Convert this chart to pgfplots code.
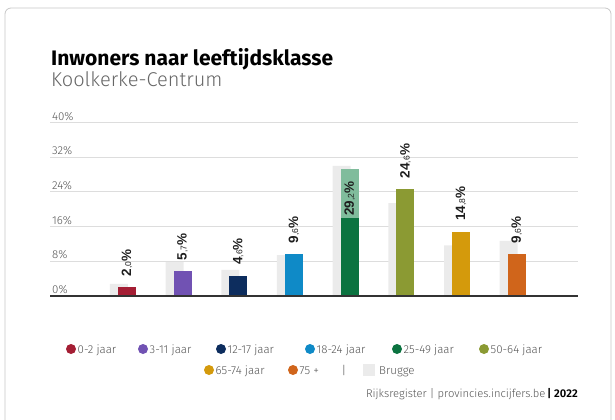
\documentclass[border=0pt]{standalone}
\usepackage{fontspec}
\usepackage{pgfplots}
\pgfplotsset{compat=1.18}
\setmainfont{Fira Sans}
\newfontfamily\lightfont{Fira Sans Light}
\newfontfamily\numfont{Liberation Sans}

\definecolor{cA}{HTML}{A41E34}
\definecolor{cB}{HTML}{7152B3}
\definecolor{cC}{HTML}{0D2D5E}
\definecolor{cD}{HTML}{0F8AC7}
\definecolor{cE}{HTML}{0B7340}
\definecolor{cEl}{HTML}{80BC9C}
\definecolor{cF}{HTML}{8B9A33}
\definecolor{cG}{HTML}{D49A0C}
\definecolor{cH}{HTML}{D0651B}
\definecolor{brugge}{HTML}{EBEBEB}
\definecolor{gridcol}{HTML}{DDDDDD}
\definecolor{txtgray}{HTML}{555555}
\definecolor{subgray}{HTML}{666666}
\definecolor{labcol}{HTML}{1E1E1E}

\newcommand\numbig{\numfont\bfseries\fontsize{13.5bp}{14bp}\selectfont}
\newcommand\numsmall{\mdseries\fontsize{8.5bp}{9bp}\selectfont}
% value label: large bold integer part, small decimals
\newcommand\vallabel{\pgfmathprintnumber[assume math mode=true, use comma, fixed, fixed zerofill, precision=1, set decimal separator={\numsmall,}]{\pgfplotspointmeta}\%}

\pgfplotsset{
  mainbar/.style={
    ybar, bar width=18bp, bar shift=0pt, draw=none, fill=#1,
    point meta=y,
    nodes near coords={\hspace*{11bp}{\numbig\vallabel}},
    every node near coord/.append style={rotate=90, anchor=west, inner sep=0pt, text=labcol},
  },
}

\begin{document}
\begin{tikzpicture}[x=1bp,y=1bp]
\useasboundingbox (0,0) rectangle (615,419);
\draw[rounded corners=6bp, draw=black!22, line width=0.8bp] (5,-10) rectangle (611,411);

% heading
\node[anchor=base west, inner sep=0pt, font=\bfseries\fontsize{21bp}{23bp}\selectfont, text=black] at (51,353.5) {Inwoners naar leeftijdsklasse};
\node[anchor=base west, inner sep=0pt, font=\lightfont\fontsize{20bp}{22bp}\selectfont, text=subgray] at (51,333) {Koolkerke-Centrum};

\begin{axis}[
  at={(50bp,123bp)}, anchor=south west,
  scale only axis, width=528bp, height=173.5bp,
  xmin=-1.38, xmax=8.1, ymin=0, ymax=40,
  axis line style={draw=none},
  xtick=\empty, ytick={8,16,24,32,40}, yticklabels={},
  major tick length=0pt,
  ymajorgrids, grid style={color=gridcol, line width=0.9bp},
  clip=false,
]
% Brugge reference bars
\addplot[ybar, bar width=18bp, bar shift=-8bp, fill=brugge, draw=none]
  coordinates {(0,2.8) (1,7.8) (2,6.0) (3,9.4) (4,30.0) (5,21.4) (6,11.7) (7,12.7)};

% Koolkerke-Centrum
\addplot[mainbar=cA] coordinates {(0,2.0)};
\addplot[mainbar=cB] coordinates {(1,5.7)};
\addplot[mainbar=cC] coordinates {(2,4.6)};
\addplot[mainbar=cD] coordinates {(3,9.6)};
\addplot[mainbar=cEl, nodes near coords={{\numbig\vallabel}\hspace*{12bp}},
  every node near coord/.append style={anchor=east}] coordinates {(4,29.2)};
\addplot[ybar, bar width=18bp, bar shift=0pt, draw=none, fill=cE] coordinates {(4,17.9)};
\addplot[mainbar=cF] coordinates {(5,24.6)};
\addplot[mainbar=cG] coordinates {(6,14.8)};
\addplot[mainbar=cH] coordinates {(7,9.6)};

\draw[color=black!80, line width=1.1bp] (axis description cs:0,0) -- (axis description cs:1,0);
\end{axis}

% value axis labels
\foreach \v in {0,8,16,24,32,40} {
  \node[anchor=base west, inner sep=0pt, font=\lightfont\fontsize{11.5bp}{12bp}\selectfont, text=txtgray]
    at (52,123+\v*4.3375+2.5) {\v\%};
}

% legend
\tikzset{lgtxt/.style={anchor=base west, inner sep=0pt, font=\lightfont\fontsize{11.5bp}{12bp}\selectfont, text=txtgray}}
\foreach \cx/\col/\lab in {71/cA/0-2 jaar, 143/cB/3-11 jaar, 221/cC/12-17 jaar, 310/cD/18-24 jaar, 397/cE/25-49 jaar, 484/cF/50-64 jaar} {
  \fill[\col] (\cx,70) circle (5);
  \node[lgtxt] at (\cx+6.5,66) {\lab};
}
\foreach \cx/\col/\lab in {209/cG/65-74 jaar, 293/cH/75 +} {
  \fill[\col] (\cx,49) circle (5);
  \node[lgtxt] at (\cx+6.5,45) {\lab};
}
\node[lgtxt] at (341.5,45) {|};
\fill[brugge] (363,43) rectangle (375,55);
\node[lgtxt] at (379,45) {Brugge};

% source
\node[anchor=base east, inner sep=0pt, font=\lightfont\fontsize{11.2bp}{12bp}\selectfont, text=txtgray] at (578,22)
  {Rijksregister | provincies.incijfers.be\textcolor{black}{\,\bfseries| 2022}};
\end{tikzpicture}
\end{document}
